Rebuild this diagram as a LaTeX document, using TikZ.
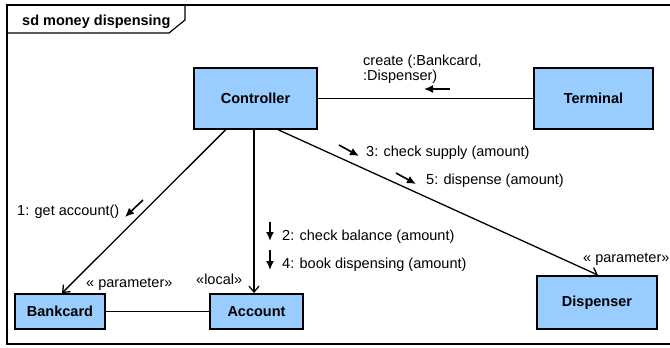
\documentclass[tikz,border=0pt]{standalone}
\usepackage{fontspec}
\setmainfont{Liberation Sans}
\usetikzlibrary{arrows.meta,calc}
\definecolor{boxblue}{RGB}{153,204,255}
\begin{document}
\begin{tikzpicture}[x=1pt,y=-1pt,
 obj/.style={draw=black, fill=boxblue, line width=1.8pt, font=\bfseries\fontsize{14.5}{17}\selectfont, inner sep=0pt},
 lbl/.style={anchor=base west, font=\fontsize{14.5}{17}\selectfont, inner sep=0pt},
 conn/.style={line width=1.3pt},
 nav/.style={-{Straight Barb[length=6pt,width=10pt]}, line width=1.3pt},
 msg/.style={-{Latex[length=9pt,width=8pt]}, line width=1.6pt}]
\useasboundingbox (0,0) rectangle (670,348);
% frame
\draw[line width=1.6pt] (676,5) -- (7,5) -- (7,344) -- (676,344);
\draw[line width=1.2pt] (7,33) -- (169,33) -- (185,20) -- (185,5);
\node[lbl, font=\bfseries\fontsize{14.5}{17}\selectfont] (title) at (22,25) {sd money dispensing};
% objects
\node[obj, minimum width=123pt, minimum height=61pt] (ctrl) at (255.5,98.5) {Controller};
\node[obj, minimum width=119pt, minimum height=61pt] (term) at (593.5,98.5) {Terminal};
\node[obj, minimum width=90pt, minimum height=35pt] (bank) at (60,311.5) {Bankcard};
\node[obj, minimum width=93pt, minimum height=35pt] (acct) at (256.5,311.5) {Account};
\node[obj, minimum width=120pt, minimum height=53pt] (disp) at (597,302.5) {Dispenser};
% connectors
\draw[conn] (ctrl) -- (term);
\draw[conn] (bank) -- (acct);
\draw[nav] ($(ctrl.south)+(-30,0)$) -- ($(bank.north)+(2,0)$);
\coordinate (c2) at ($(ctrl.south)+(-1.5,0)$);
\draw[nav] (c2) -- (c2 |- acct.north);
\draw[nav] ($(ctrl.south)+(23,0)$) -- ($(disp.north)+(1,0)$);
% labels
\node[lbl] (l0a) at (363,65) {create (:Bankcard,};
\node[lbl] (l0b) at (363,80) {:Dispenser)};
\draw[msg] (450,89) -- (424,89);
\node[lbl] (l3) at (366,156) {3: check supply (amount)};
\draw[msg] (339,145) -- (359,156);
\node[lbl] (l5) at (426,184) {5: dispense (amount)};
\draw[msg] (396,173) -- (416,184);
\node[lbl] (l2) at (282,240) {2: check balance (amount)};
\draw[msg] (270,222) -- (270,241);
\node[lbl] (l4) at (282,268) {4: book dispensing (amount)};
\draw[msg] (270,250) -- (270,270);
\node[lbl] (l1) at (17,215) {1: get account()};
\draw[msg] (143,200) -- (125,217);
\node[lbl] (s1) at (86,287) {« parameter»};
\node[lbl] (s2) at (196,284) {«local»};
\node[lbl] (s3) at (583,262) {« parameter»};
\end{tikzpicture}
\end{document}
